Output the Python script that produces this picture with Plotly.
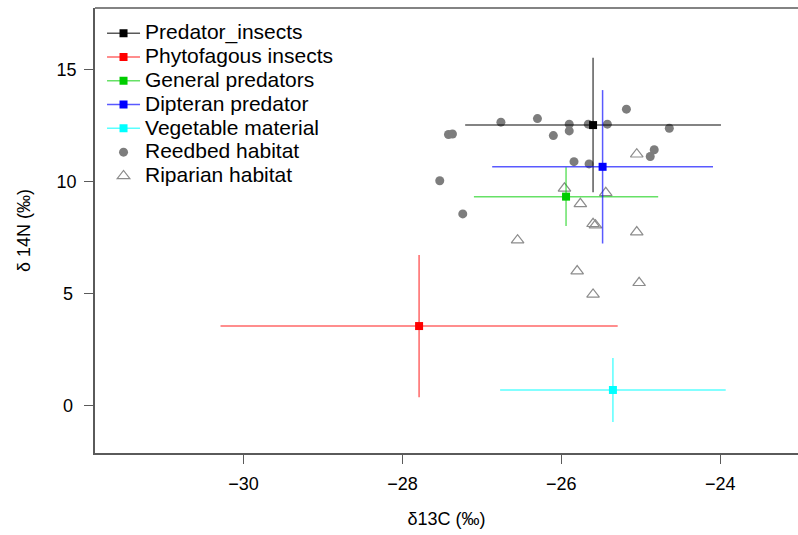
import plotly.graph_objects as go

# ---- data ----
groups = ["Predator_insects", "Phytofagous insects", "General predators",
          "Dipteran predator", "Vegetable material"]
group_d13c = [-25.60, -27.79, -25.94, -25.48, -25.35]
group_d15n = [12.52, 3.56, 9.33, 10.66, 0.71]
group_sd_c = [1.61, 2.50, 1.16, 1.39, 1.42]
group_sd_n = [3.00, 3.17, 1.31, 3.42, 1.43]
group_marker_colors = ["#000000", "#FF0000", "#00CD00", "#0000FF", "#00FFFF"]
group_line_colors = ["rgba(0,0,0,0.65)", "rgba(255,0,0,0.6)", "rgba(0,205,0,0.6)",
                     "rgba(0,0,255,0.65)", "rgba(0,255,255,0.65)"]

reed_d13c = [-27.42, -27.37, -26.76, -26.30, -25.90, -25.90, -26.10, -25.66, -25.42,
             -25.18, -24.64, -24.83, -24.88, -25.84, -25.65, -27.53, -27.24]
reed_d15n = [12.10, 12.12, 12.65, 12.81, 12.56, 12.26, 12.05, 12.56, 12.56,
             13.23, 12.38, 11.42, 11.12, 10.89, 10.79, 10.04, 8.56]

rip_d13c = [-25.05, -25.96, -25.44, -25.76, -25.60, -25.57, -25.05, -26.55,
            -25.80, -25.02, -25.60]
rip_d15n = [11.22, 9.70, 9.50, 9.01, 8.12, 8.06, 7.75, 7.39, 6.01, 5.49, 4.97]

x_ticks = [-30, -28, -26, -24]
y_ticks = [0, 5, 10, 15]
y_ticktext = ["0\u2009", "5\u2009", "10", "15"]

FONT = "Liberation Sans, Arial, sans-serif"


def big(label):
    return '<span style="font-size:21px">' + label + "</span>"


fig = go.Figure()

fig.add_trace(go.Scatter(
    x=reed_d13c, y=reed_d15n, mode="markers", name=big("Reedbed habitat"),
    legendrank=6,
    marker=dict(symbol="circle", size=9, color="rgb(125,125,125)", line=dict(width=0)),
))
fig.add_trace(go.Scatter(
    x=rip_d13c, y=rip_d15n, mode="markers", name=big("Riparian habitat"),
    legendrank=7,
    marker=dict(symbol="triangle-up-open", size=11, color="rgb(140,140,140)",
                line=dict(width=1.2, color="rgb(140,140,140)")),
))

for i, g in enumerate(groups):
    fig.add_trace(go.Scatter(
        x=[group_d13c[i]], y=[group_d15n[i]], mode="lines+markers",
        name=big(g),
        legendrank=i + 1,
        line=dict(color=group_line_colors[i], width=1.5),
        marker=dict(symbol="square", size=8, color=group_marker_colors[i]),
        error_x=dict(type="data", array=[group_sd_c[i]], color=group_line_colors[i],
                     thickness=1.5, width=0),
        error_y=dict(type="data", array=[group_sd_n[i]], color=group_line_colors[i],
                     thickness=1.5, width=0),
    ))

axis_line = "rgb(90,90,90)"

fig.update_layout(
    width=798, height=535,
    margin=dict(l=95, r=0, t=8, b=82),
    paper_bgcolor="white", plot_bgcolor="white",
    font=dict(family=FONT, size=18, color="black"),
    showlegend=True,
    legend=dict(x=0.01, y=0.9815, xanchor="left", yanchor="top", bgcolor="rgba(0,0,0,0)",
                borderwidth=0, font=dict(size=16, family=FONT, color="black"),
                itemwidth=33, tracegroupgap=0),
    xaxis=dict(range=[-31.87, -23.02], tickvals=x_ticks, showgrid=False, zeroline=False,
               showline=True, linecolor=axis_line, linewidth=1.5,
               ticks="outside", ticklen=9, tickwidth=1, tickcolor=axis_line,
               tickfont=dict(size=18, family=FONT), ticklabelstandoff=5,
               title=dict(text="δ13C (‰)", font=dict(size=18, family=FONT), standoff=19)),
    yaxis=dict(range=[-2.10, 17.74], tickvals=y_ticks, ticktext=y_ticktext, showgrid=False,
               zeroline=False, showline=True, linecolor=axis_line, linewidth=1.5,
               ticks="outside", ticklen=9, tickwidth=1, tickcolor=axis_line,
               tickfont=dict(size=18, family=FONT), ticklabelstandoff=4,
               title=dict(text="δ 14N (‰)", font=dict(size=18, family=FONT), standoff=21)),
    shapes=[dict(type="line", xref="paper", yref="paper", x0=0, x1=1, y0=1, y1=1,
                 line=dict(color=axis_line, width=1.5))],
)

fig.write_html("out.html")
